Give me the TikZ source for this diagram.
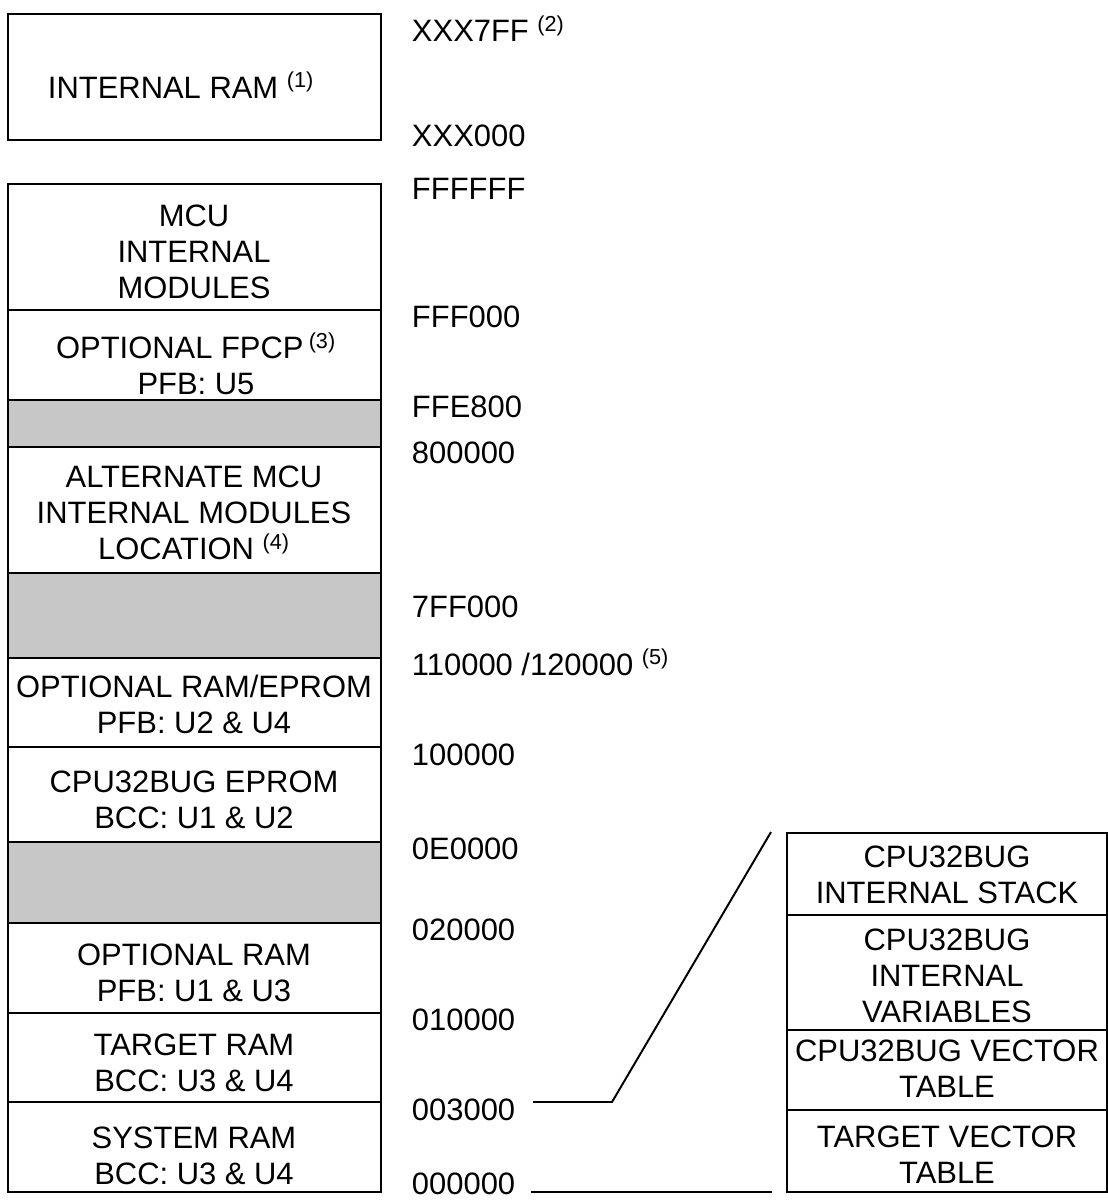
\documentclass[tikz,border=0pt]{standalone}
\usepackage{fontspec}
\setmainfont{Liberation Sans}

\begin{document}
\begin{tikzpicture}[x=.025cm,y=-.025cm,line width=1.4pt,
  lbl/.style={font=\fontsize{22}{25.6}\selectfont,align=center,inner sep=0pt},
  addr/.style={font=\fontsize{22}{25.6}\selectfont,anchor=base west,inner sep=0pt},
  hatch/.style={fill=black!22}]
\useasboundingbox (0,0) rectangle (1108,1201);
% internal ram
\draw (8,14) rectangle (381,140);
\node[lbl] (iram) at (181,85) {INTERNAL RAM \textsuperscript{(1)}};
% memory map
\draw (8,184) rectangle (381,310);\node[lbl] (mcu) at (194,252) {MCU\\INTERNAL\\MODULES};
\draw (8,310) rectangle (381,400);\node[lbl] (fpcp) at (196,364) {OPTIONAL FPCP\,\textsuperscript{(3)}\\PFB: U5};
\draw (8,447) rectangle (381,573);\node[lbl] (alt) at (194,513) {ALTERNATE MCU\\INTERNAL MODULES\\LOCATION \textsuperscript{(4)}};
\draw (8,658) rectangle (381,747);\node[lbl] (ramep) at (194,704) {OPTIONAL RAM/EPROM\\PFB: U2 \& U4};
\draw (8,747) rectangle (381,842);\node[lbl] (eprom) at (194,800) {CPU32BUG EPROM\\BCC: U1 \& U2};
\draw (8,923) rectangle (381,1013);\node[lbl] (oram) at (194,973) {OPTIONAL RAM\\PFB: U1 \& U3};
\draw (8,1013) rectangle (381,1102);\node[lbl] (tram) at (194,1063) {TARGET RAM\\BCC: U3 \& U4};
\draw (8,1102) rectangle (381,1192);\node[lbl] (sram) at (194,1156) {SYSTEM RAM\\BCC: U3 \& U4};
\foreach \t/\b in {400/447,573/658,842/923}
  \draw[hatch] (8,\t) rectangle (381,\b);
% addresses
\node[addr] (a7ff) at (411,42) {XXX7FF \textsuperscript{(2)}};
\node[addr] (axxx) at (411,147) {XXX000};
\node[addr] (affff) at (411,200) {FFFFFF};
\node[addr] (afff) at (411,327) {FFF000};
\node[addr] (affe) at (411,417) {FFE800};
\node[addr] (a800) at (411,463) {800000};
\node[addr] (a7ff0) at (411,617) {7FF000};
\node[addr] (a110) at (411,675) {110000 /120000 \textsuperscript{(5)}};
\node[addr] (a100) at (411,765) {100000};
\node[addr] (a0e0) at (411,859) {0E0000};
\node[addr] (a020) at (411,940) {020000};
\node[addr] (a010) at (411,1030) {010000};
\node[addr] (a003) at (411,1120) {003000};
\node[addr] (a000) at (411,1194) {000000};
% low memory detail
\draw (787,833) rectangle (1107,915);\node[lbl] (stack) at (947,875) {CPU32BUG\\INTERNAL STACK};
\draw (787,915) rectangle (1107,1030);\node[lbl] (vars) at (947,976) {CPU32BUG\\INTERNAL\\VARIABLES};
\draw (787,1030) rectangle (1107,1110);\node[lbl] (bugvec) at (947,1069) {CPU32BUG VECTOR\\TABLE};
\draw (787,1110) rectangle (1107,1192);\node[lbl] (tgtvec) at (947,1155) {TARGET VECTOR\\TABLE};
\coordinate (l3s) at (533,1102);\coordinate (l3k) at (612,1102);\coordinate (l3e) at (771,832);
\coordinate (l0s) at (531,1192);\coordinate (l0e) at (772,1192);
\draw (l3s)--(l3k)--(l3e);
\draw (l0s)--(l0e);
\end{tikzpicture}
\end{document}
